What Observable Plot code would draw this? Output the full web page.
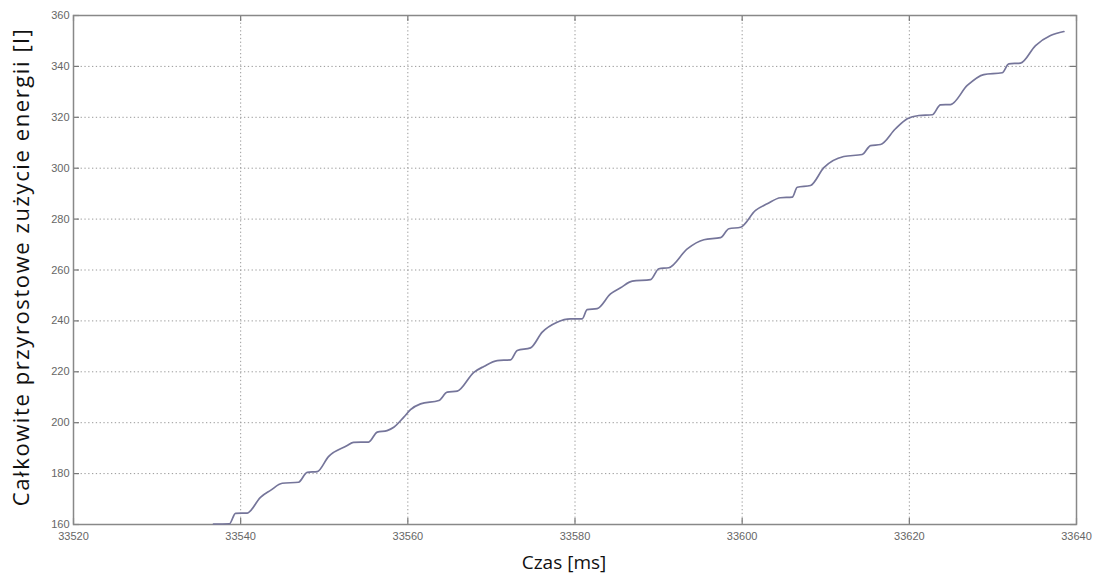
<!DOCTYPE html>
<html>
<head>
<meta charset="utf-8">
<script src="https://cdn.jsdelivr.net/npm/d3@7"></script>
<script src="https://cdn.jsdelivr.net/npm/@observablehq/plot@0.6"></script>
<style>
  html, body { margin: 0; padding: 0; background: #fff; }
  #chart svg { display: block; }
</style>
</head>
<body>
<div id="chart"></div>
<script>
const xLabel = "Czas [ms]";
const yLabel = "Całkowite przyrostowe zużycie energii [l]";
const xTicks = [33520, 33540, 33560, 33580, 33600, 33620, 33640];
const yTicks = [160, 180, 200, 220, 240, 260, 280, 300, 320, 340, 360];

const time = [
  33536.75, 33538.66, 33539.38, 33540.78, 33542.37, 33543.57, 33544.97, 33546.92,
  33547.96, 33549.16, 33550.51, 33552.75, 33553.50, 33555.30, 33556.34, 33557.52,
  33558.32, 33559.52, 33560.32, 33561.52, 33563.71, 33564.71, 33565.91, 33567.90,
  33569.09, 33570.69, 33572.29, 33573.09, 33574.68, 33576.08, 33577.86, 33579.46,
  33580.86, 33581.45, 33582.65, 33584.25, 33585.45, 33586.85, 33589.04, 33590.03,
  33591.23, 33593.43, 33595.42, 33597.41, 33598.41, 33599.81, 33601.60, 33603.00,
  33604.59, 33605.99, 33606.59, 33608.18, 33609.77, 33612.16, 33614.36, 33615.36,
  33616.55, 33618.35, 33619.75, 33621.14, 33622.74, 33623.73, 33624.93, 33626.93,
  33628.91, 33631.11, 33631.90, 33633.30, 33635.10, 33636.89, 33638.49
];
const energy = [
  160.2, 160.3, 164.4, 164.5, 170.7, 173.4, 176.2, 176.6,
  180.5, 180.8, 186.7, 191.0, 192.3, 192.4, 196.3, 196.9,
  198.2, 202.2, 205.1, 207.4, 208.7, 212.0, 212.4, 219.8,
  222.1, 224.4, 224.7, 228.4, 229.4, 235.6, 239.5, 240.8,
  240.8, 244.4, 244.8, 250.6, 253.0, 255.6, 256.2, 260.5,
  260.9, 268.3, 271.9, 272.7, 276.2, 276.8, 283.4, 286.0,
  288.4, 288.6, 292.5, 293.2, 300.2, 304.6, 305.4, 308.9,
  309.3, 315.5, 319.4, 320.7, 321.0, 324.9, 325.0, 332.5,
  336.8, 337.5, 341.0, 341.3, 348.2, 352.1, 353.7
];

const data = time.map((t, i) => ({t, v: energy[i]}));
const tickFont = "'Liberation Sans Narrow', 'Liberation Sans', Arial, sans-serif";
const titleFont = "'Open Sans', 'Noto Sans', sans-serif";

const W = 1097, H = 577, ML = 73, MR = 21, MT = 15, MB = 53;
const innerW = W - ML - MR, innerH = H - MT - MB, tickLen = 6;

const chart = Plot.plot({
  width: W,
  height: H,
  marginLeft: ML,
  marginRight: MR,
  marginTop: MT,
  marginBottom: MB,
  style: {fontFamily: tickFont, background: "#fff"},
  x: {type: "linear", domain: [33520, 33640]},
  y: {type: "linear", domain: [160, 360]},
  marks: [
    Plot.gridX(xTicks.slice(1, -1), {stroke: "#999", strokeOpacity: 1, strokeDasharray: "1.3,2.5"}),
    Plot.gridY(yTicks.slice(1, -1), {stroke: "#999", strokeOpacity: 1, strokeDasharray: "1.3,2.5"}),
    Plot.axisX(xTicks, {anchor: "bottom", tickSize: 0, tickPadding: 8, fontSize: 11, fill: "#666", label: null, tickFormat: d => String(d)}),
    Plot.axisY(yTicks, {anchor: "left", tickSize: 0, tickPadding: 4, fontSize: 11, fill: "#666", label: null, tickFormat: d => String(d)}),
    Plot.tickX(xTicks, {x: d => d, insetTop: innerH - tickLen, stroke: "#777", strokeWidth: 1.2}),
    Plot.tickX(xTicks, {x: d => d, insetBottom: innerH - tickLen, stroke: "#777", strokeWidth: 1.2}),
    Plot.tickY(yTicks, {y: d => d, insetRight: innerW - tickLen, stroke: "#777", strokeWidth: 1.2}),
    Plot.tickY(yTicks, {y: d => d, insetLeft: innerW - tickLen, stroke: "#777", strokeWidth: 1.2}),
    Plot.frame({stroke: "#888", strokeWidth: 1.5}),
    Plot.line(data, {x: "t", y: "v", stroke: "#75759a", strokeWidth: 1.7, curve: "monotone-x"}),
    Plot.text([yLabel], {frameAnchor: "left", textAnchor: "middle", dx: -52, dy: -3, rotate: -90, fontSize: 22, fontFamily: titleFont, fill: "#111"}),
    Plot.text([xLabel], {frameAnchor: "bottom", textAnchor: "middle", dx: -11, dy: 44, fontSize: 19, fontFamily: titleFont, fill: "#111"})
  ]
});
d3.select(chart).selectAll("text").filter(function() { return this.textContent === yLabel; })
  .attr("letter-spacing", "1.6px");
document.getElementById("chart").appendChild(chart);
</script>
</body>
</html>
